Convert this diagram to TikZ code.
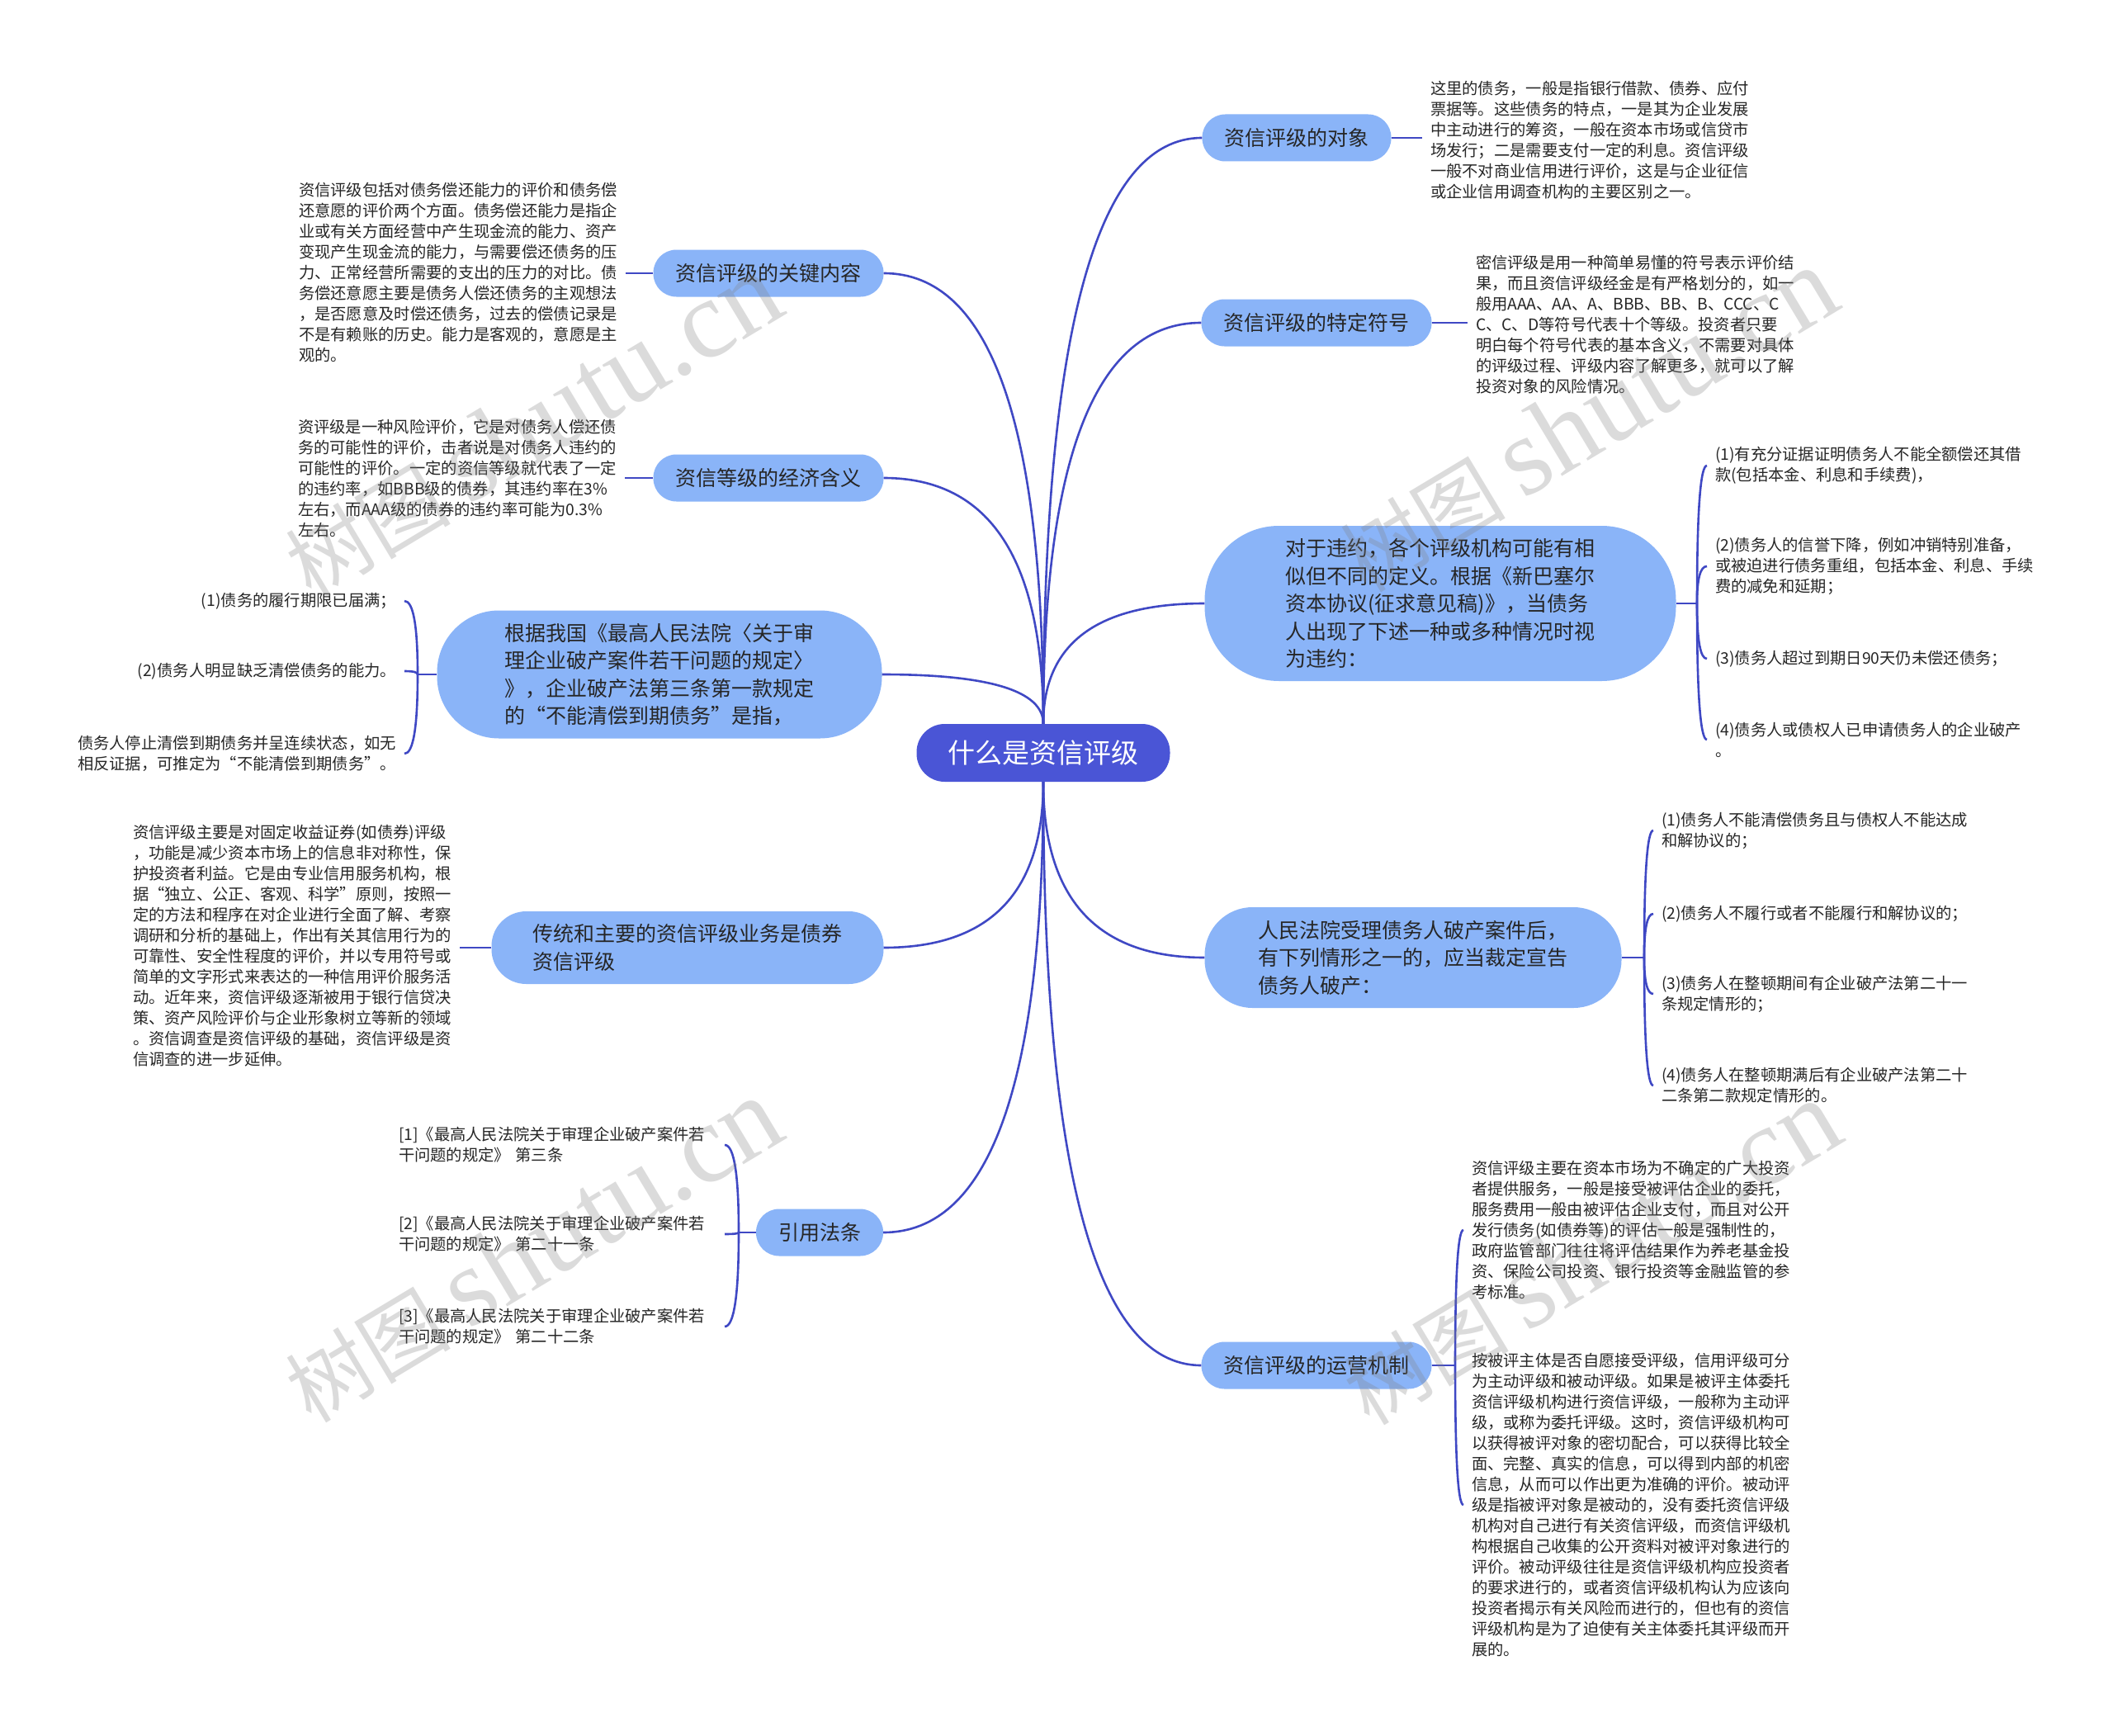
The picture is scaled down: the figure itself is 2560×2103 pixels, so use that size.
\documentclass[tikz,border=0pt]{standalone}
\usepackage{fontspec}
\setmainfont{Noto Sans CJK SC}
\newfontfamily\wmserif{Liberation Serif}
\usetikzlibrary{calc}
\definecolor{edgec}{HTML}{3F48C4}
\definecolor{centerc}{HTML}{4A55D6}
\definecolor{branchc}{HTML}{8AB4F8}
\definecolor{txtc}{HTML}{262626}
\begin{document}
\begin{tikzpicture}[x=1pt,y=-1pt,
  central/.style={fill=centerc, text=white, font=\fontsize{33}{40}\selectfont, inner xsep=38pt, inner ysep=0pt, minimum height=70pt, rounded corners=34pt},
  branch/.style={fill=branchc, text=txtc, font=\fontsize{25}{33.5}\selectfont, inner xsep=27pt, inner ysep=0pt, minimum height=57pt, rounded corners=28pt, align=left},
  leaf/.style={text=txtc, font=\fontsize{19.3}{25}\selectfont, inner sep=0pt, outer xsep=10pt, outer ysep=0pt, align=left},
  cite/.style={leaf, outer xsep=0pt, text width=395pt},
  link/.style={draw=edgec, line width=2.6pt},
  curvy/.style={to path={.. controls ($(\tikztostart)!0.667!(\tikztostart |- \tikztotarget)$) and ($(\tikztotarget)!0.667!(\tikztostart |- \tikztotarget)$) .. (\tikztotarget)}},
  wm/.style={text=black!50, opacity=0.28, inner sep=0pt, rotate=31}
]
\fill[white] (0,0) rectangle (2560,2103);
\useasboundingbox (0,0) rectangle (2560,2103);

% central
\node[central] (c) at (1264,912) {什么是资信评级};

% branches
\node[branch] (b1) at (1571,167) {资信评级的对象};
\node[branch] (b2) at (1595,391) {资信评级的特定符号};
\node[branch, inner xsep=98pt, minimum height=188pt, rounded corners=90pt] (b3) at (1745,731) {对于违约，各个评级机构可能有相\\似但不同的定义。根据《新巴塞尔\\资本协议(征求意见稿)》，当债务\\人出现了下述一种或多种情况时视\\为违约：};
\node[branch, inner xsep=65pt, minimum height=122pt, rounded corners=58pt] (b4) at (1712,1160) {人民法院受理债务人破产案件后，\\有下列情形之一的，应当裁定宣告\\债务人破产：};
\node[branch] (b5) at (1595,1654) {资信评级的运营机制};
\node[branch] (b6) at (931,331) {资信评级的关键内容};
\node[branch] (b7) at (931,579) {资信等级的经济含义};
\node[branch, inner xsep=82pt, minimum height=155pt, rounded corners=75pt] (b8) at (799,817) {根据我国《最高人民法院〈关于审\\理企业破产案件若干问题的规定〉\\》，企业破产法第三条第一款规定\\的“不能清偿到期债务”是指，};
\node[branch, inner xsep=50pt, minimum height=88pt, rounded corners=42pt] (b9) at (833,1148) {传统和主要的资信评级业务是债券\\资信评级};
\node[branch] (b10) at (993,1493) {引用法条};

% leaves right
\node[leaf, anchor=west] (l1) at (1723,170) {这里的债务，一般是指银行借款、债券、应付\\票据等。这些债务的特点，一是其为企业发展\\中主动进行的筹资，一般在资本市场或信贷市\\场发行；二是需要支付一定的利息。资信评级\\一般不对商业信用进行评价，这是与企业征信\\或企业信用调查机构的主要区别之一。};
\node[leaf, anchor=west] (l2) at (1778,393) {密信评级是用一种简单易懂的符号表示评价结\\果，而且资信评级经金是有严格划分的，如一\\般用AAA、AA、A、BBB、BB、B、CCC、C\\C、C、D等符号代表十个等级。投资者只要\\明白每个符号代表的基本含义，不需要对具体\\的评级过程、评级内容了解更多，就可以了解\\投资对象的风险情况。};

\node[leaf, anchor=west] (l3a) at (2068,564) {(1)有充分证据证明债务人不能全额偿还其借\\款(包括本金、利息和手续费)，};
\node[leaf, anchor=west] (l3b) at (2068,686) {(2)债务人的信誉下降，例如冲销特别准备，\\或被迫进行债务重组，包括本金、利息、手续\\费的减免和延期；};
\node[leaf, anchor=west] (l3c) at (2068,798) {(3)债务人超过到期日90天仍未偿还债务；};
\node[leaf, anchor=west] (l3d) at (2068,896) {(4)债务人或债权人已申请债务人的企业破产\\。};

\node[leaf, anchor=west] (l4a) at (2003,1006) {(1)债务人不能清偿债务且与债权人不能达成\\和解协议的；};
\node[leaf, anchor=west] (l4b) at (2003,1107) {(2)债务人不履行或者不能履行和解协议的；};
\node[leaf, anchor=west] (l4c) at (2003,1204) {(3)债务人在整顿期间有企业破产法第二十一\\条规定情形的；};
\node[leaf, anchor=west] (l4d) at (2003,1315) {(4)债务人在整顿期满后有企业破产法第二十\\二条第二款规定情形的。};

\node[leaf, anchor=west] (l5a) at (1773,1490) {资信评级主要在资本市场为不确定的广大投资\\者提供服务，一般是接受被评估企业的委托，\\服务费用一般由被评估企业支付，而且对公开\\发行债务(如债券等)的评估一般是强制性的，\\政府监管部门往往将评估结果作为养老基金投\\资、保险公司投资、银行投资等金融监管的参\\考标准。};
\node[leaf, anchor=west] (l5b) at (1773,1823) {按被评主体是否自愿接受评级，信用评级可分\\为主动评级和被动评级。如果是被评主体委托\\资信评级机构进行资信评级，一般称为主动评\\级，或称为委托评级。这时，资信评级机构可\\以获得被评对象的密切配合，可以获得比较全\\面、完整、真实的信息，可以得到内部的机密\\信息，从而可以作出更为准确的评价。被动评\\级是指被评对象是被动的，没有委托资信评级\\机构对自己进行有关资信评级，而资信评级机\\构根据自己收集的公开资料对被评对象进行的\\评价。被动评级往往是资信评级机构应投资者\\的要求进行的，或者资信评级机构认为应该向\\投资者揭示有关风险而进行的，但也有的资信\\评级机构是为了迫使有关主体委托其评级而开\\展的。};

% leaves left
\node[leaf, anchor=east] (l6) at (758,330) {资信评级包括对债务偿还能力的评价和债务偿\\还意愿的评价两个方面。债务偿还能力是指企\\业或有关方面经营中产生现金流的能力、资产\\变现产生现金流的能力，与需要偿还债务的压\\力、正常经营所需要的支出的压力的对比。债\\务偿还意愿主要是债务人偿还债务的主观想法\\，是否愿意及时偿还债务，过去的偿债记录是\\不是有赖账的历史。能力是客观的，意愿是主\\观的。};
\node[leaf, anchor=east] (l7) at (757,580) {资评级是一种风险评价，它是对债务人偿还债\\务的可能性的评价，击者说是对债务人违约的\\可能性的评价。一定的资信等级就代表了一定\\的违约率，如BBB级的债券，其违约率在3\%\\左右，而AAA级的债券的违约率可能为0.3\%\\左右。};

\node[leaf, anchor=east] (l8a) at (490,728) {(1)债务的履行期限已届满；};
\node[leaf, anchor=east] (l8b) at (490,813) {(2)债务人明显缺乏清偿债务的能力。};
\node[leaf, anchor=east] (l8c) at (490,913) {债务人停止清偿到期债务并呈连续状态，如无\\相反证据，可推定为“不能清偿到期债务”。};

\node[leaf, anchor=east] (l9) at (557,1146) {资信评级主要是对固定收益证券(如债券)评级\\，功能是减少资本市场上的信息非对称性，保\\护投资者利益。它是由专业信用服务机构，根\\据“独立、公正、客观、科学”原则，按照一\\定的方法和程序在对企业进行全面了解、考察\\调研和分析的基础上，作出有关其信用行为的\\可靠性、安全性程度的评价，并以专用符号或\\简单的文字形式来表达的一种信用评价服务活\\动。近年来，资信评级逐渐被用于银行信贷决\\策、资产风险评价与企业形象树立等新的领域\\。资信调查是资信评级的基础，资信评级是资\\信调查的进一步延伸。};

\node[cite, anchor=west] (l10a) at (483,1387) {[1]《最高人民法院关于审理企业破产案件若\\干问题的规定》 第三条};
\node[cite, anchor=west] (l10b) at (483,1495) {[2]《最高人民法院关于审理企业破产案件若\\干问题的规定》 第二十一条};
\node[cite, anchor=west] (l10c) at (483,1607) {[3]《最高人民法院关于审理企业破产案件若\\干问题的规定》 第二十二条};

% junctions
\coordinate (j3) at (2056,731);
\coordinate (j4) at (1992,1160);
\coordinate (j5) at (1763,1654);
\coordinate (j8) at (506,817);
\coordinate (j10) at (895,1493);

% main edges
\foreach \b/\a in {b1/west,b2/west,b3/west,b6/east,b7/east,b8/east}
  \draw[link] (c.north) to[curvy] (\b.\a);
\foreach \b/\a in {b4/west,b5/west,b9/east,b10/east}
  \draw[link] (c.south) to[curvy] (\b.\a);

% single leaf connectors
\draw[link] (b1.east) -- (l1.west |- b1.east);
\draw[link] (b2.east) -- (l2.west |- b2.east);
\draw[link] (b6.west) -- (l6.east |- b6.west);
\draw[link] (b7.west) -- (l7.east |- b7.west);
\draw[link] (b9.west) -- (l9.east |- b9.west);

% brackets
\draw[link] (b3.east) -- (j3);
\foreach \i in {a,b,c,d} \draw[link] (j3) to[curvy] (l3\i.west);
\draw[link] (b4.east) -- (j4);
\foreach \i in {a,b,c,d} \draw[link] (j4) to[curvy] (l4\i.west);
\draw[link] (b5.east) -- (j5);
\foreach \i in {a,b} \draw[link] (j5) to[curvy] (l5\i.west);
\draw[link] (b8.west) -- (j8);
\foreach \i in {a,b,c} \draw[link] (j8) to[curvy] (l8\i.east);
\draw[link] (b10.west) -- (j10);
\foreach \i in {a,b,c} \draw[link] (j10) to[curvy] (l10\i.east);

% watermarks
\node[wm] (w1) at (645,516) {\fontsize{100}{100}\selectfont 树图 {\wmserif\fontsize{135}{135}\selectfont shutu.cn}};
\node[wm] (w2) at (1923,509) {\fontsize{100}{100}\selectfont 树图 {\wmserif\fontsize{135}{135}\selectfont shutu.cn}};
\node[wm] (w3) at (645,1515) {\fontsize{100}{100}\selectfont 树图 {\wmserif\fontsize{135}{135}\selectfont shutu.cn}};
\node[wm] (w4) at (1927,1518) {\fontsize{100}{100}\selectfont 树图 {\wmserif\fontsize{135}{135}\selectfont shutu.cn}};
\end{tikzpicture}
\end{document}
